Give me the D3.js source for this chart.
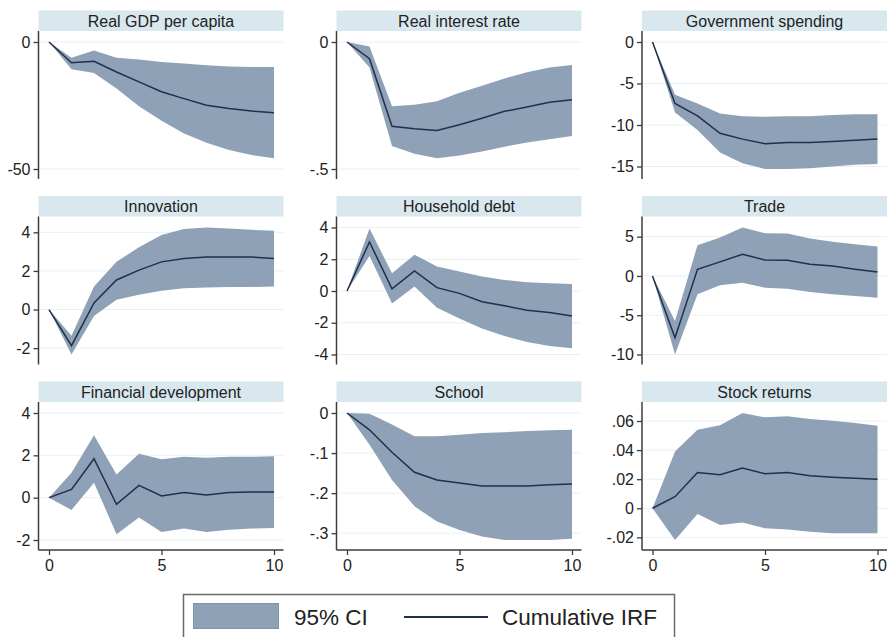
<!DOCTYPE html>
<html>
<head>
<meta charset="utf-8">
<script src="https://cdn.jsdelivr.net/npm/d3@7/dist/d3.min.js"></script>
<style>
  html, body { margin: 0; padding: 0; background: #ffffff; }
  svg { display: block; font-family: "Liberation Sans", Arial, sans-serif; }
</style>
</head>
<body>
<svg id="chart" width="889" height="637"></svg>
<script>
// Forecast horizon (periods after the shock)
const horizon = [0, 1, 2, 3, 4, 5, 6, 7, 8, 9, 10];

// Panel titles, in reading order
const panelTitles = [
  "Real GDP per capita", "Real interest rate", "Government spending",
  "Innovation", "Household debt", "Trade",
  "Financial development", "School", "Stock returns"
];

// Cumulative IRF and 95% CI bounds for each response variable
const gdpIrf = [0, -8.2, -7.6, -11.8, -15.7, -19.6, -22.3, -24.9, -26.2, -27.2, -27.9];
const gdpLo  = [0, -10.7, -12.2, -18.3, -25.3, -31.0, -36.0, -39.7, -42.5, -44.5, -45.8];
const gdpHi  = [0, -6.2, -3.3, -6.2, -6.9, -7.9, -8.5, -9.2, -9.6, -9.8, -9.8];

const rateIrf = [0, -0.066, -0.332, -0.342, -0.348, -0.326, -0.300, -0.273, -0.256, -0.237, -0.227];
const rateLo  = [0, -0.100, -0.409, -0.440, -0.458, -0.447, -0.431, -0.412, -0.396, -0.383, -0.370];
const rateHi  = [0, -0.018, -0.253, -0.247, -0.233, -0.200, -0.172, -0.144, -0.119, -0.100, -0.091];

const govIrf = [0, -7.4, -8.9, -11.0, -11.7, -12.25, -12.1, -12.1, -12.0, -11.85, -11.7];
const govLo  = [0, -8.5, -10.6, -13.3, -14.6, -15.3, -15.3, -15.2, -15.0, -14.8, -14.7];
const govHi  = [0, -6.35, -7.4, -8.6, -8.95, -9.0, -8.95, -8.95, -8.8, -8.7, -8.7];

const innovIrf = [0, -1.87, 0.34, 1.53, 2.04, 2.47, 2.64, 2.72, 2.72, 2.72, 2.64];
const innovLo  = [0, -2.33, -0.34, 0.51, 0.77, 0.97, 1.10, 1.14, 1.17, 1.17, 1.19];
const innovHi  = [0, -1.36, 1.19, 2.47, 3.23, 3.86, 4.17, 4.25, 4.20, 4.13, 4.08];

const debtIrf = [0, 3.09, 0.13, 1.27, 0.21, -0.15, -0.68, -0.93, -1.21, -1.36, -1.57];
const debtLo  = [0, 2.2, -0.78, 0.28, -1.06, -1.74, -2.37, -2.84, -3.22, -3.47, -3.60];
const debtHi  = [0, 3.94, 1.12, 2.29, 1.55, 1.23, 0.91, 0.70, 0.55, 0.49, 0.44];

const tradeIrf = [0, -7.87, 0.85, 1.79, 2.77, 2.04, 2.00, 1.49, 1.28, 0.85, 0.51];
const tradeLo  = [0, -10.0, -2.34, -1.19, -0.85, -1.49, -1.62, -2.04, -2.34, -2.55, -2.77];
const tradeHi  = [0, -5.74, 3.91, 4.89, 6.17, 5.45, 5.40, 4.77, 4.34, 4.04, 3.74];

const finIrf = [0, 0.39, 1.84, -0.31, 0.58, 0.08, 0.24, 0.13, 0.24, 0.27, 0.27];
const finLo  = [0, -0.58, 0.71, -1.73, -0.94, -1.62, -1.46, -1.62, -1.52, -1.46, -1.43];
const finHi  = [0, 1.18, 2.95, 1.10, 2.07, 1.81, 1.93, 1.88, 1.93, 1.93, 1.96];

const schoolIrf = [0, -0.042, -0.098, -0.148, -0.167, -0.175, -0.182, -0.182, -0.182, -0.179, -0.177];
const schoolLo  = [0, -0.079, -0.167, -0.233, -0.271, -0.292, -0.308, -0.317, -0.317, -0.317, -0.314];
const schoolHi  = [0, -0.002, -0.029, -0.058, -0.058, -0.054, -0.050, -0.048, -0.045, -0.043, -0.042];

const stockIrf = [0, 0.008, 0.0246, 0.023, 0.0276, 0.0237, 0.0246, 0.0223, 0.0214, 0.0207, 0.0200];
const stockLo  = [0, -0.0218, -0.004, -0.0115, -0.0097, -0.0138, -0.0145, -0.0161, -0.0172, -0.0172, -0.0172];
const stockHi  = [0, 0.039, 0.054, 0.057, 0.0655, 0.0625, 0.0632, 0.0614, 0.0602, 0.0586, 0.0568];

// Y-axis tick values and their printed labels
const gdpTicks = [0, -50],                      gdpTickLabels = ["0", "-50"];
const rateTicks = [0, -0.5],                    rateTickLabels = ["0", "-.5"];
const govTicks = [0, -5, -10, -15],             govTickLabels = ["0", "-5", "-10", "-15"];
const innovTicks = [4, 2, 0, -2],               innovTickLabels = ["4", "2", "0", "-2"];
const debtTicks = [4, 2, 0, -2, -4],            debtTickLabels = ["4", "2", "0", "-2", "-4"];
const tradeTicks = [5, 0, -5, -10],             tradeTickLabels = ["5", "0", "-5", "-10"];
const finTicks = [4, 2, 0, -2],                 finTickLabels = ["4", "2", "0", "-2"];
const schoolTicks = [0, -0.1, -0.2, -0.3],      schoolTickLabels = ["0", "-.1", "-.2", "-.3"];
const stockTicks = [0.06, 0.04, 0.02, 0, -0.02], stockTickLabels = [".06", ".04", ".02", "0", "-.02"];

// X-axis ticks (bottom row only)
const xTicks = [0, 5, 10];

// Legend entries
const legendLabels = ["95% CI", "Cumulative IRF"];

// ---- assemble panels ----
const panels = [
  { irf: gdpIrf, lo: gdpLo, hi: gdpHi, ticks: gdpTicks, labels: gdpTickLabels },
  { irf: rateIrf, lo: rateLo, hi: rateHi, ticks: rateTicks, labels: rateTickLabels },
  { irf: govIrf, lo: govLo, hi: govHi, ticks: govTicks, labels: govTickLabels },
  { irf: innovIrf, lo: innovLo, hi: innovHi, ticks: innovTicks, labels: innovTickLabels },
  { irf: debtIrf, lo: debtLo, hi: debtHi, ticks: debtTicks, labels: debtTickLabels },
  { irf: tradeIrf, lo: tradeLo, hi: tradeHi, ticks: tradeTicks, labels: tradeTickLabels },
  { irf: finIrf, lo: finLo, hi: finHi, ticks: finTicks, labels: finTickLabels },
  { irf: schoolIrf, lo: schoolLo, hi: schoolHi, ticks: schoolTicks, labels: schoolTickLabels },
  { irf: stockIrf, lo: stockLo, hi: stockHi, ticks: stockTicks, labels: stockTickLabels }
].map((p, i) => Object.assign(p, { title: panelTitles[i] }));

// ---- layout ----
const colAxisX = [38.5, 336.5, 642];
const rowTitleBottom = [31, 216.5, 402];
const plotW = 245, titleH = 20.5;
const padTop = 11, innerH = 127, padBottom = 10;
const padX = 10.5, innerW = 225;

const COLORS = {
  band: "#8fa1b6",
  bandEdge: "#7d91a8",
  line: "#1f2f4d",
  title: "#d9e8ef",
  grid: "#e9f0f3",
  axis: "#3c3c3c",
  text: "#222222"
};

const svg = d3.select("#chart");

panels.forEach((p, i) => {
  const col = i % 3, row = Math.floor(i / 3);
  const x0 = colAxisX[col];
  const top = rowTitleBottom[row];
  const plotBottom = top + padTop + innerH + padBottom;

  const g = svg.append("g");

  const x = d3.scaleLinear()
    .domain(d3.extent(horizon))
    .range([x0 + padX, x0 + padX + innerW]);

  const yExt = d3.extent([...p.lo, ...p.hi, ...p.irf, ...p.ticks]);
  const y = d3.scaleLinear()
    .domain(yExt)
    .range([top + padTop + innerH, top + padTop]);

  // title band
  g.append("rect")
    .attr("x", x0).attr("y", top - titleH)
    .attr("width", plotW).attr("height", titleH)
    .attr("fill", COLORS.title);
  g.append("text")
    .attr("x", x0 + plotW / 2).attr("y", top - titleH / 2)
    .attr("dy", "0.36em")
    .attr("text-anchor", "middle")
    .attr("font-size", 16)
    .attr("fill", COLORS.text)
    .text(p.title);

  // horizontal grid lines
  g.selectAll("line.grid").data(p.ticks).join("line")
    .attr("class", "grid")
    .attr("x1", x0 + 1).attr("x2", x0 + plotW)
    .attr("y1", d => y(d)).attr("y2", d => y(d))
    .attr("stroke", COLORS.grid).attr("stroke-width", 1);

  const pts = horizon.map((h, k) => ({ h, lo: p.lo[k], hi: p.hi[k], v: p.irf[k] }));

  // confidence band
  g.append("path")
    .datum(pts)
    .attr("d", d3.area().x(d => x(d.h)).y0(d => y(d.lo)).y1(d => y(d.hi)))
    .attr("fill", COLORS.band);

  // cumulative IRF
  g.append("path")
    .datum(pts)
    .attr("d", d3.line().x(d => x(d.h)).y(d => y(d.v)))
    .attr("fill", "none")
    .attr("stroke", COLORS.line)
    .attr("stroke-width", 1.5);

  // y axis
  const yAxis = d3.axisLeft(y)
    .tickValues(p.ticks)
    .tickFormat((d, k) => p.labels[k])
    .tickSize(5)
    .tickPadding(3);
  const ya = g.append("g").attr("transform", `translate(${x0},0)`).call(yAxis);
  ya.select(".domain").remove();
  ya.selectAll(".tick line").attr("stroke", COLORS.axis).attr("stroke-width", 1.3);
  ya.selectAll(".tick text")
    .attr("font-size", 16).attr("fill", COLORS.text)
    .attr("font-family", "Liberation Sans, Arial, sans-serif");
  g.append("line")
    .attr("x1", x0).attr("x2", x0)
    .attr("y1", top).attr("y2", plotBottom)
    .attr("stroke", COLORS.axis).attr("stroke-width", 1.5);

  // x axis on the bottom row
  if (row === 2) {
    const xAxis = d3.axisBottom(x)
      .tickValues(xTicks)
      .tickFormat(d3.format("d"))
      .tickSize(5)
      .tickPadding(5);
    const xa = g.append("g").attr("transform", `translate(0,${plotBottom})`).call(xAxis);
    xa.select(".domain").remove();
    xa.selectAll(".tick line").attr("stroke", COLORS.axis).attr("stroke-width", 1.3);
    xa.selectAll(".tick text")
      .attr("font-size", 16).attr("fill", COLORS.text)
      .attr("font-family", "Liberation Sans, Arial, sans-serif");
    g.append("line")
      .attr("x1", x0).attr("x2", x0 + plotW)
      .attr("y1", plotBottom).attr("y2", plotBottom)
      .attr("stroke", COLORS.axis).attr("stroke-width", 1.5);
  }
});

// ---- legend ----
const lg = svg.append("g");
lg.append("rect")
  .attr("x", 183.5).attr("y", 594.5)
  .attr("width", 491).attr("height", 60)
  .attr("fill", "#ffffff")
  .attr("stroke", "#6a6a6a").attr("stroke-width", 1.5);
lg.append("rect")
  .attr("x", 193.5).attr("y", 603.5)
  .attr("width", 85).attr("height", 25)
  .attr("fill", COLORS.band)
  .attr("stroke", COLORS.bandEdge).attr("stroke-width", 1);
lg.append("text")
  .attr("x", 294).attr("y", 625)
  .attr("font-size", 22.5).attr("fill", COLORS.text)
  .text(legendLabels[0]);
lg.append("line")
  .attr("x1", 404).attr("x2", 488)
  .attr("y1", 617).attr("y2", 617)
  .attr("stroke", COLORS.line).attr("stroke-width", 2);
lg.append("text")
  .attr("x", 502).attr("y", 625)
  .attr("font-size", 22.5).attr("fill", COLORS.text)
  .text(legendLabels[1]);
</script>
</body>
</html>
